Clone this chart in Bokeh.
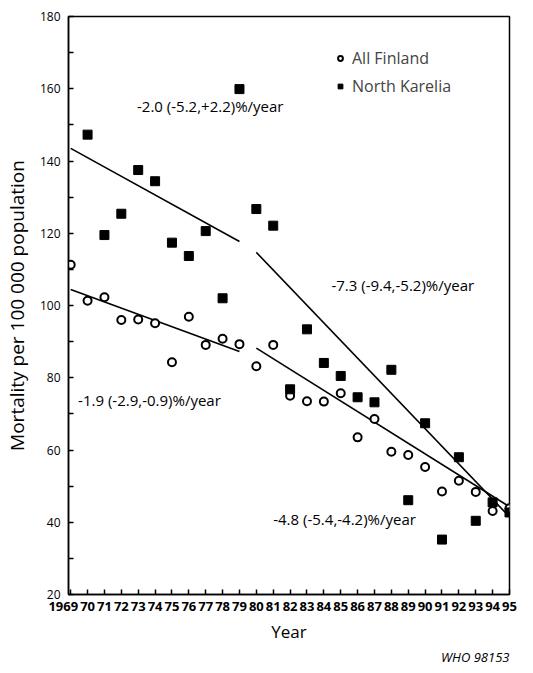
from bokeh.plotting import figure
from bokeh.models import Range1d, FixedTicker, Legend, LegendItem, Label, Title
from bokeh.embed import file_html
from bokeh.resources import INLINE

# ---- data ----
af_years = list(range(1969, 1996))
all_finland = [111.3, 101.3, 102.3, 96.0, 96.1, 95.1, 84.3, 96.9, 89.1, 90.8, 89.3,
               83.2, 89.1, 75.0, 73.5, 73.4, 75.7, 63.5, 68.6, 59.5, 58.6, 55.3,
               48.5, 51.5, 48.4, 43.1, 43.9]
nk_years = list(range(1970, 1996))
north_karelia = [147.3, 119.5, 125.4, 137.5, 134.4, 117.4, 113.7, 120.6, 102.0, 159.9,
                 126.7, 122.1, 76.8, 93.4, 84.1, 80.5, 74.6, 73.2, 82.2, 46.1, 67.4,
                 35.2, 58.0, 40.4, 45.5, 42.7]
# fitted trend segments (period 1969-79 and 1980-95)
trend_years = [[1969, 1979], [1980, 1995]]
af_trend = [[104.4, 87.3], [88.2, 44.3]]
nk_trend = [[143.5, 117.7], [114.7, 41.5]]
trend_labels = ["-2.0 (-5.2,+2.2)%/year", "-7.3 (-9.4,-5.2)%/year",
                "-1.9 (-2.9,-0.9)%/year", "-4.8 (-5.4,-4.2)%/year"]
label_x = [1972.93, 1984.45, 1969.44, 1981.0]
label_y = [155.1, 105.8, 73.9, 40.9]
y_ticks = [20, 40, 60, 80, 100, 120, 140, 160, 180]
y_minor = [30, 50, 70, 90, 110, 130, 150, 170]
# first label padded (figure spaces) so it sits left of its tick, clear of "70"
x_tick_labels = {y: ("1969\u2007\u2007" if y == 1969 else "%02d" % (y % 100)) for y in af_years}
x_title = "Year"
y_title = "Mortality per 100 000 population"
source_note = "WHO 98153"

FONT = "Open Sans"

p = figure(width=517, height=665, output_backend="svg", toolbar_location=None,
           x_range=Range1d(1968.87, 1995.0), y_range=Range1d(20, 180),
           min_border_left=59, min_border_right=8, min_border_top=16, min_border_bottom=58)
p.grid.visible = False
p.outline_line_color = "black"
p.outline_line_width = 1.5
p.background_fill_color = "white"
p.border_fill_color = "white"

# axes
for ax in (p.xaxis[0], p.yaxis[0]):
    ax.axis_line_width = 1.5
    ax.major_tick_in = 5
    ax.major_tick_out = 0
    ax.minor_tick_in = 5
    ax.minor_tick_out = 0
    ax.major_tick_line_width = 1.5
    ax.minor_tick_line_width = 1.5
    ax.major_label_text_font = FONT
    ax.axis_label_text_font = FONT
    ax.axis_label_text_font_style = "normal"
    ax.axis_label_text_color = "black"
    ax.major_label_text_color = "black"

p.xaxis.ticker = FixedTicker(ticks=af_years, minor_ticks=[])
p.xaxis.major_label_overrides = x_tick_labels
p.xaxis.major_label_text_font_size = "13px"
p.xaxis.major_label_text_font_style = "bold"
p.xaxis.major_label_standoff = 2
p.xaxis.axis_label = x_title
p.xaxis.axis_label_text_font_size = "17px"
p.xaxis.axis_label_standoff = 2

p.yaxis.ticker = FixedTicker(ticks=y_ticks, minor_ticks=y_minor)
p.yaxis.major_label_text_font_size = "12px"
p.yaxis.major_label_standoff = 8
p.yaxis.axis_label = y_title
p.yaxis.axis_label_text_font_size = "19px"
p.yaxis.axis_label_standoff = 7

# trend lines
p.multi_line(trend_years, af_trend, line_color="black", line_width=1.6)
p.multi_line(trend_years, nk_trend, line_color="black", line_width=1.6)

# points
r_af = p.scatter(af_years, all_finland, marker="circle", size=8, fill_color="white",
                 line_color="black", line_width=2)
r_nk = p.scatter(nk_years, north_karelia, marker="square", size=9, fill_color="black",
                 line_color="black", line_width=1)

# rate annotations
for t, lx, ly in zip(trend_labels, label_x, label_y):
    p.add_layout(Label(x=lx, y=ly, text=t, text_align="left", text_baseline="middle",
                       text_font=FONT, text_font_size="15px", text_color="black"))

legend = Legend(items=[LegendItem(label="All Finland", renderers=[r_af]),
                       LegendItem(label="North Karelia", renderers=[r_nk])],
                location=(266, 497))
legend.border_line_color = None
legend.background_fill_alpha = 0
legend.label_text_font = FONT
legend.label_text_font_size = "16px"
legend.glyph_width = 12
legend.glyph_height = 20
legend.spacing = 6
legend.padding = 0
legend.margin = 0
legend.label_standoff = 6
p.add_layout(legend)

p.add_layout(Title(text=source_note, align="right", text_font=FONT,
                   text_font_style="italic", text_font_size="13px",
                   text_color="black", standoff=0, offset=0), "below")

open("out.html", "w").write(file_html(p, INLINE))
